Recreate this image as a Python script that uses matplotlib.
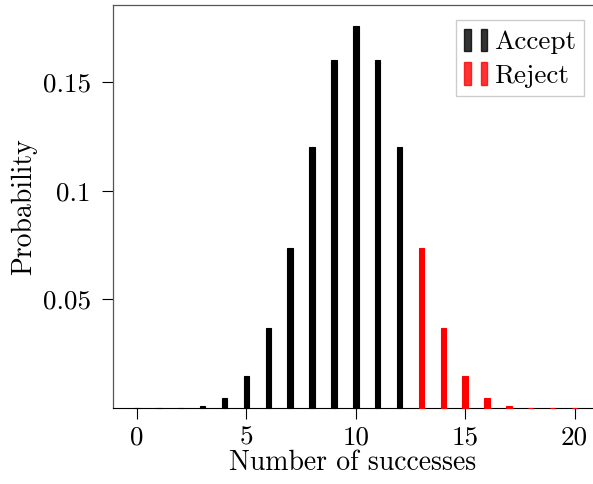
import matplotlib
matplotlib.use("Agg")
import matplotlib.pyplot as plt
from matplotlib.patches import Rectangle
from matplotlib.legend_handler import HandlerTuple

plt.rcParams['font.family'] = 'serif'
plt.rcParams['font.serif'] = ['cmr10']
plt.rcParams['axes.formatter.use_mathtext'] = True
plt.rcParams['mathtext.fontset'] = 'cm'

accept_k = [0, 1, 2, 3, 4, 5, 6, 7, 8, 9, 10, 11, 12]
accept_p = [0.00000095, 0.0000191, 0.000181, 0.001087, 0.00462, 0.01479, 0.03696,
            0.07393, 0.1201, 0.1602, 0.1762, 0.1602, 0.1201]
reject_k = [13, 14, 15, 16, 17, 18, 19, 20]
reject_p = [0.07393, 0.03696, 0.01479, 0.00462, 0.001087, 0.000181, 0.0000191, 0.00000095]

xticks = [0, 5, 10, 15, 20]
yticks = [0.05, 0.1, 0.15]
ytick_labels = ['0.05', '0.1', '0.15']

FS = 19.5

fig = plt.figure(figsize=(5.93, 4.84), dpi=100)
ax = fig.add_axes([113/593, 1-408/484, (592-113)/593, (408-5)/484])

b1 = ax.bar(accept_k, accept_p, width=0.25, color='black', edgecolor='black', linewidth=0.8, zorder=3)
b2 = ax.bar(reject_k, reject_p, width=0.25, color='red', edgecolor='red', linewidth=0.8, zorder=3)
for p in list(b1) + list(b2):
    p.set_clip_on(False)

ax.set_xlim(-1.1, 20.8)
ax.set_ylim(0, 0.1857)
ax.set_xticks(xticks)
ax.set_xticklabels([str(t) for t in xticks])
ax.set_yticks(yticks)
ax.set_yticklabels(ytick_labels)
ax.tick_params(direction='out', length=8, labelsize=FS, width=0.8)
ax.tick_params(axis='x', pad=5)
ax.tick_params(axis='y', pad=8)

for s in ['left', 'top']:
    ax.spines[s].set_color('#555555')
    ax.spines[s].set_linewidth(0.9)
ax.spines['bottom'].set_color('black')
ax.spines['right'].set_visible(False)

ax.set_xlabel('Number of successes', fontsize=20, labelpad=0)
ax.set_ylabel('Probability', fontsize=20, labelpad=4)

h1 = (Rectangle((0, 0), 1, 1, color='black', alpha=0.8), Rectangle((0, 0), 1, 1, color='black', alpha=0.8))
h2 = (Rectangle((0, 0), 1, 1, color='red', alpha=0.8), Rectangle((0, 0), 1, 1, color='red', alpha=0.8))
leg = ax.legend([h1, h2], ['Accept', 'Reject'],
                handler_map={tuple: HandlerTuple(ndivide=None, pad=0.35)},
                loc='upper right', fontsize=FS, handlelength=0.85, handleheight=0.9,
                handletextpad=0.25, borderpad=0.3, labelspacing=0.3,
                borderaxespad=0.2, fancybox=False, framealpha=1, edgecolor='#cccccc',
                bbox_to_anchor=(0.995, 0.975))

fig.savefig('out.png', dpi=100)
